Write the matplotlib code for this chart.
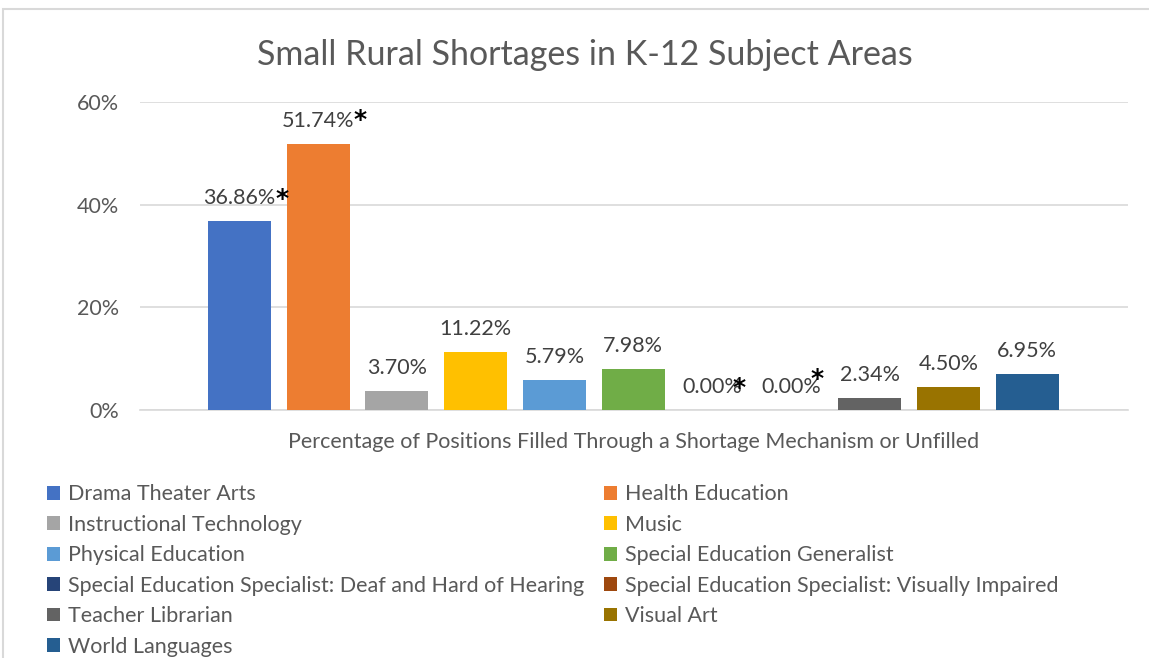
import matplotlib.pyplot as plt
from matplotlib.patches import Rectangle, Patch

plt.rcParams['font.family'] = ['Lato', 'DejaVu Sans']

subjects = ['Drama Theater Arts', 'Health Education', 'Instructional Technology', 'Music',
            'Physical Education', 'Special Education Generalist',
            'Special Education Specialist: Deaf and Hard of Hearing',
            'Special Education Specialist: Visually Impaired', 'Teacher Librarian',
            'Visual Art', 'World Languages']
values = [36.86, 51.74, 3.70, 11.22, 5.79, 7.98, 0.00, 0.00, 2.34, 4.50, 6.95]
starred = [True, True, False, False, False, False, True, True, False, False, False]
colors = ['#4472C4', '#ED7D31', '#A5A5A5', '#FFC000', '#5B9BD5', '#70AD47',
          '#264478', '#9E480E', '#636363', '#997300', '#255E91']
yticks = [0, 20, 40, 60]

fig = plt.figure(figsize=(11.49, 6.58), dpi=100)
ax = fig.add_axes([140 / 1149, 1 - 410 / 658, 988 / 1149, 308 / 658])

x = list(range(len(values)))
ax.bar(x, values, width=0.8, color=colors, zorder=3)

# asterisk placement (points from bar top), Excel put them a bit unevenly
star_off = {0: (30.5, 16), 1: (30, 17.5), 6: (19.5, 16), 7: (19.2, 22)}

for xi, v, s in zip(x, values, starred):
    ax.annotate(f'{v:.2f}%', (xi, v), xytext=(0, 9.5), textcoords='offset points',
                ha='center', va='bottom', fontsize=15.5, color='#404040')
    if s:
        ax.annotate('*', (xi, v), xytext=star_off[xi], textcoords='offset points',
                    ha='center', va='center', fontsize=18, color='black',
                    fontweight='bold', family='DejaVu Sans')

ax.set_ylim(0, 60)
ax.set_xlim(-1.26, 11.28)
ax.set_yticks(yticks)
ax.set_yticklabels([f'{t}%' for t in yticks], fontsize=15.5, color='#595959')
ax.set_xticks([])
ax.tick_params(axis='y', length=0, pad=15)
ax.grid(axis='y', color='#D9D9D9', linewidth=1.2, zorder=0)
for sp in ['top', 'right', 'left']:
    ax.spines[sp].set_visible(False)
ax.spines['bottom'].set_color('#D9D9D9')
ax.spines['bottom'].set_linewidth(1.2)
ax.set_xlabel('Percentage of Positions Filled Through a Shortage Mechanism or Unfilled',
              fontsize=15.5, color='#595959', labelpad=16)

fig.text(585 / 1149, 1 - 55 / 658, 'Small Rural Shortages in K-12 Subject Areas',
         ha='center', va='center', fontsize=24.5, color='#595959')

# legend in row-major order
handles = [Patch(facecolor=c) for c in colors]
order = list(range(0, 11, 2)) + list(range(1, 11, 2))
fig.legend([handles[i] for i in order], [subjects[i] for i in order], ncol=2,
           loc='upper left', bbox_to_anchor=(28 / 1149, 1 - 465 / 658), frameon=False,
           fontsize=15.5, labelcolor='#595959', handlelength=0.6, handleheight=0.6,
           handletextpad=0.37, columnspacing=0.92, labelspacing=0.485)

# chart border (cropped)
fig.patches.append(Rectangle((3 / 1149, -0.1), 1.2, 1 + 0.1 - 9 / 658, transform=fig.transFigure,
                             fill=False, edgecolor='#D9D9D9', linewidth=1.5))

fig.savefig('out.png', dpi=100)
